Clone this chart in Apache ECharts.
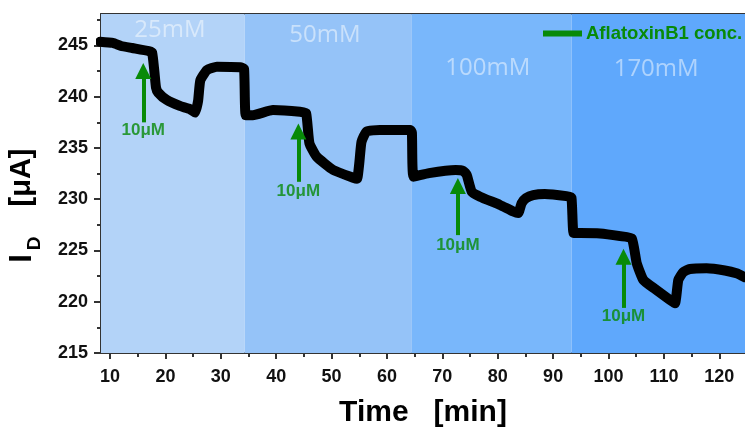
<!DOCTYPE html>
<html>
<head>
<meta charset="utf-8">
<script src="https://cdn.jsdelivr.net/npm/echarts@6/dist/echarts.min.js"></script>
<style>
  html, body { margin: 0; padding: 0; background: #ffffff; }
  #chart { width: 745px; height: 428px; }
</style>
</head>
<body>
<div id="chart"></div>
<script>
// Drain current trace, time in minutes
const timeMin = [
  8.2, 10.5, 12.0, 14.0, 17.0, 17.6, 18.0, 18.3, 18.7, 20.2, 22.6, 24.4, 25.35,
  25.9, 26.3, 27.5, 29.3, 33.5, 34.2, 34.5, 35.8, 39.4, 44.3, 45.4,
  46.0, 47.3, 50.3, 53.9, 54.6, 55.0, 55.4, 56.3, 58.7, 64.2, 64.5, 64.8,
  67.6, 72.4, 73.8, 74.4, 75.3, 76.8, 80.4, 82.8, 83.7, 84.3, 85.1, 86.4,
  88.5, 92.4, 93.3, 93.7, 94.9, 98.5, 102.1, 104.2, 105.1, 106.3, 108.4,
  111.1, 112.0, 112.6, 113.5, 114.7, 117.7, 121.0, 123.1, 124.6
];
const currentUA = [
  245.37, 245.25, 244.95, 244.75, 244.45, 244.3, 242.5, 240.9, 240.4, 239.7, 239.1, 238.8, 238.45,
  239.6, 241.6, 242.6, 242.93, 242.87, 242.7, 238.2, 238.2, 238.7, 238.54, 238.4,
  235.46, 234.15, 232.85, 232.1, 232.0, 233.5, 235.6, 236.6, 236.76, 236.76, 236.5, 232.2,
  232.55, 232.85, 232.75, 232.37, 230.74, 230.25, 229.44, 228.8, 228.66, 229.6, 230.1, 230.4,
  230.5, 230.3, 230.17, 226.7, 226.7, 226.66, 226.4, 226.19, 223.75, 222.12, 221.24,
  220.17, 219.85, 222.12, 222.9, 223.2, 223.26, 223.05, 222.77, 222.4
];

// Electrolyte concentration bands
const bandEdges = [8.37, 34.3, 64.5, 93.35, 124.64];
const bandNames = ['25mM', '50mM', '100mM', '170mM'];
const bandColors = ['#b3d3f8', '#95c3f8', '#79b7fb', '#5fa8fc'];
const bandLabelX = [20.8, 48.8, 78.2, 108.6];
const bandLabelY = [246.5, 246.0, 242.8, 242.7];

// AflatoxinB1 additions
const doseX = [16.0, 44.0, 72.8, 102.7];
const doseArrowTail = [237.5, 231.7, 226.5, 219.4];
const doseArrowHead = [242.5, 236.6, 231.3, 224.4];
const doseLabelY = [236.7, 230.8, 225.5, 218.6];
const doseText = '10μM';

// Axis ticks
const xTicks = [10, 20, 30, 40, 50, 60, 70, 80, 90, 100, 110, 120];
const xMinorTicks = [15, 25, 35, 45, 55, 65, 75, 85, 95, 105, 115];
const yTicks = [215, 220, 225, 230, 235, 240, 245];
const yMinorTicks = [217.5, 222.5, 227.5, 232.5, 237.5, 242.5, 247.5];

const X_MIN = 8.37, X_MAX = 124.64, Y_MIN = 215, Y_MAX = 248.07;
const FONT = '"Liberation Sans", Arial, sans-serif';
const AXIS_COLOR = '#333333';
const GREEN = '#088a08';

const chart = echarts.init(document.getElementById('chart'), null, { renderer: 'canvas' });

const trace = timeMin.map((t, i) => [t, currentUA[i]]);
const bandAreas = bandNames.map((n, i) => [
  { xAxis: bandEdges[i], itemStyle: { color: bandColors[i] } },
  { xAxis: bandEdges[i + 1] }
]);
const bandLabels = bandNames.map((n, i) => ({ name: n, value: [bandLabelX[i], bandLabelY[i]] }));
const arrows = doseX.map((x, i) => ({ coords: [[x, doseArrowTail[i]], [x, doseArrowHead[i]]] }));
const doseLabels = doseX.map((x, i) => ({ name: doseText, value: [x, doseLabelY[i]] }));

const baseX = { type: 'value', min: X_MIN, max: X_MAX, gridIndex: 0, splitLine: { show: false } };
const baseY = { type: 'value', min: Y_MIN, max: Y_MAX, gridIndex: 0, splitLine: { show: false } };

chart.setOption({
  animation: false,
  backgroundColor: '#ffffff',
  grid: { left: 101, top: 14, right: 0, bottom: 75, containLabel: false, outerBoundsMode: 'none' },
  legend: {
    data: ['AflatoxinB1 conc.'],
    left: 543, top: 24, padding: 0,
    icon: 'rect', itemWidth: 37, itemHeight: 4,
    textStyle: { fontFamily: FONT, fontSize: 18.5, fontWeight: 'bold', color: GREEN }
  },
  xAxis: [
    Object.assign({}, baseX, {
      position: 'bottom',
      name: 'Time   [min]', nameLocation: 'middle', nameGap: 45,
      nameTextStyle: { fontFamily: FONT, fontSize: 30, fontWeight: 'bold', color: '#000' },
      axisLine: { show: true, lineStyle: { color: AXIS_COLOR, width: 2 } },
      axisTick: { show: true, customValues: xTicks, length: 6, lineStyle: { color: AXIS_COLOR, width: 2 } },
      axisLabel: { show: true, customValues: xTicks, margin: 15, fontFamily: FONT, fontSize: 18, fontWeight: 'bold', color: '#111' }
    }),
    Object.assign({}, baseX, {
      position: 'bottom',
      axisLine: { show: false },
      axisTick: { show: true, customValues: xMinorTicks, length: 4, lineStyle: { color: AXIS_COLOR, width: 2 } },
      axisLabel: { show: false }
    }),
    Object.assign({}, baseX, {
      position: 'top',
      axisLine: { show: true, lineStyle: { color: AXIS_COLOR, width: 2 } },
      axisTick: { show: false },
      axisLabel: { show: false }
    })
  ],
  yAxis: [
    Object.assign({}, baseY, {
      position: 'left',
      axisLine: { show: true, lineStyle: { color: AXIS_COLOR, width: 2 } },
      axisTick: { show: true, customValues: yTicks, length: 7, lineStyle: { color: AXIS_COLOR, width: 2 } },
      axisLabel: { show: true, customValues: yTicks, margin: 13, fontFamily: FONT, fontSize: 18, fontWeight: 'bold', color: '#111' }
    }),
    Object.assign({}, baseY, {
      position: 'left',
      axisLine: { show: false },
      axisTick: { show: true, customValues: yMinorTicks, length: 4, lineStyle: { color: AXIS_COLOR, width: 2 } },
      axisLabel: { show: false }
    })
  ],
  graphic: [
    // Vertical axis title: I_D  [μA]
    { type: 'text', x: 22, y: 258.5, rotation: Math.PI / 2, z: 10,
      style: { text: 'I', fill: '#000', font: 'bold 31px ' + FONT, align: 'center', verticalAlign: 'middle' } },
    { type: 'text', x: 35, y: 243.5, rotation: Math.PI / 2, z: 10,
      style: { text: 'D', fill: '#000', font: 'bold 19px ' + FONT, align: 'center', verticalAlign: 'middle' } },
    { type: 'text', x: 22, y: 177.5, rotation: Math.PI / 2, z: 10,
      style: { text: '[μA]', fill: '#000', font: 'bold 29px ' + FONT, align: 'center', verticalAlign: 'middle' } }
  ],
  series: [
    {
      name: 'bands',
      type: 'scatter',
      z: 1,
      symbolSize: 0,
      data: bandLabels,
      label: {
        show: true, position: 'inside', formatter: p => p.name,
        fontFamily: '"Open Sans", sans-serif', fontSize: 24, color: 'rgba(255,255,255,0.62)'
      },
      markArea: { silent: true, data: bandAreas }
    },
    {
      name: 'ID',
      type: 'line',
      z: 3,
      data: trace,
      showSymbol: false,
      symbol: 'none',
      smooth: 0.15,
      lineStyle: { color: '#000', width: 10, join: 'round', cap: 'round' },
      itemStyle: { color: '#000' }
    },
    {
      name: 'AflatoxinB1 conc.',
      type: 'lines',
      coordinateSystem: 'cartesian2d',
      z: 4,
      data: arrows,
      symbol: ['none', 'triangle'],
      symbolSize: [13, 16],
      lineStyle: { color: GREEN, width: 4, opacity: 1 },
      itemStyle: { color: GREEN }
    },
    {
      name: 'dose',
      type: 'scatter',
      z: 4,
      symbolSize: 0,
      data: doseLabels,
      label: {
        show: true, position: 'inside', formatter: p => p.name,
        fontFamily: FONT, fontSize: 17, fontWeight: 'bold', color: GREEN
      }
    }
  ]
});
</script>
</body>
</html>
